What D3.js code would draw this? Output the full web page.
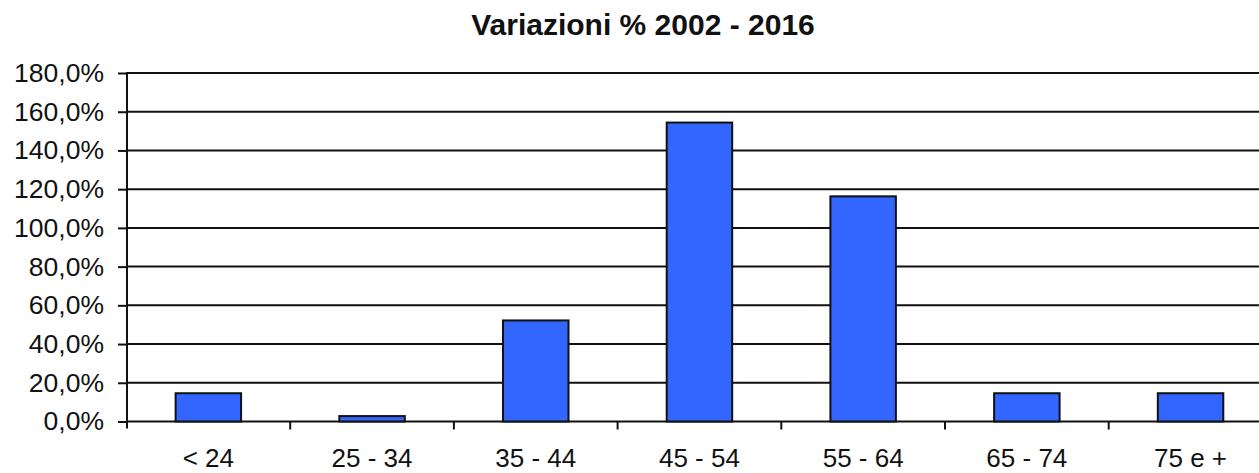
<!DOCTYPE html>
<html>
<head>
<meta charset="utf-8">
<script src="https://cdn.jsdelivr.net/npm/d3@7"></script>
<style>
  body { margin: 0; background: #fff; }
  svg { display: block; font-family: "Liberation Sans", Arial, sans-serif; }
</style>
</head>
<body>
<div id="chart"></div>
<script>
const categories = ["< 24", "25 - 34", "35 - 44", "45 - 54", "55 - 64", "65 - 74", "75 e +"];
const values = [14.6, 2.8, 52.2, 154.4, 116.3, 14.6, 14.6];
const yTicks = [0, 20, 40, 60, 80, 100, 120, 140, 160, 180];
const title = "Variazioni % 2002 - 2016";

const width = 1259, height = 473;
const plotLeft = 127, plotTop = 73, plotBottom = 421.5;
const step = 163.7;

const svg = d3.select("#chart").append("svg")
  .attr("width", width)
  .attr("height", height);

const x = d3.scaleBand()
  .domain(categories)
  .range([plotLeft - 0.5, plotLeft - 0.5 + step * categories.length])
  .paddingInner(0.6)
  .paddingOuter(0.3);

const y = d3.scaleLinear()
  .domain([0, 180])
  .range([plotBottom, plotTop]);

const it = d3.formatLocale({ decimal: ",", thousands: ".", grouping: [3], currency: ["€", ""] });
const fmt = d => it.format(".1f")(d) + "%";

// gridlines
svg.append("g")
  .selectAll("line")
  .data(yTicks)
  .join("line")
  .attr("x1", plotLeft)
  .attr("x2", width)
  .attr("y1", d => y(d))
  .attr("y2", d => y(d))
  .attr("stroke", "#111")
  .attr("stroke-width", 2);

// y axis
const yAxis = svg.append("g")
  .attr("transform", `translate(${plotLeft},0)`)
  .call(d3.axisLeft(y).tickValues(yTicks).tickFormat(fmt).tickSize(9).tickPadding(14));
yAxis.select(".domain").remove();
yAxis.selectAll(".tick line").attr("stroke", "#111").attr("stroke-width", 2);
yAxis.selectAll("text").attr("font-size", 26.5).attr("fill", "#111").attr("font-family", "Liberation Sans, Arial, sans-serif");
yAxis.append("line")
  .attr("x1", 0).attr("x2", 0)
  .attr("y1", plotTop - 1).attr("y2", plotBottom + 7)
  .attr("stroke", "#111").attr("stroke-width", 2);

// bars
svg.append("g")
  .selectAll("rect")
  .data(values)
  .join("rect")
  .attr("x", (d, i) => x(categories[i]))
  .attr("y", d => y(d))
  .attr("width", x.bandwidth())
  .attr("height", d => y(0) - y(d))
  .attr("fill", "#3366ff")
  .attr("stroke", "#111")
  .attr("stroke-width", 2);

// x axis ticks between categories
const boundary = d => x(d) - x.paddingOuter() * x.step();
svg.append("g")
  .selectAll("line")
  .data(categories.slice(1))
  .join("line")
  .attr("x1", boundary)
  .attr("x2", boundary)
  .attr("y1", plotBottom)
  .attr("y2", plotBottom + 8)
  .attr("stroke", "#111")
  .attr("stroke-width", 2);

// x labels
svg.append("g")
  .selectAll("text")
  .data(categories)
  .join("text")
  .attr("x", d => x(d) + x.bandwidth() / 2)
  .attr("y", 467)
  .attr("text-anchor", "middle")
  .attr("font-size", 26)
  .attr("fill", "#111")
  .text(d => d);

// title
svg.append("text")
  .attr("x", 643)
  .attr("y", 35)
  .attr("text-anchor", "middle")
  .attr("font-size", 30)
  .attr("font-weight", "bold")
  .attr("fill", "#111")
  .text(title);
</script>
</body>
</html>
